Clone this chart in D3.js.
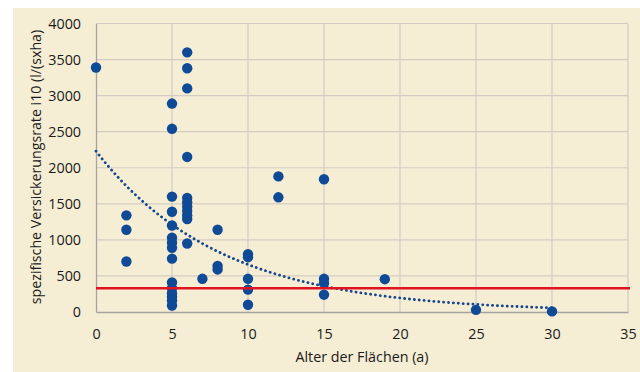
<!DOCTYPE html>
<html lang="de">
<head>
<meta charset="UTF-8"/>
<title>Versickerungsrate</title>
<script src="https://d3js.org/d3.v7.min.js"></script>
<style>
  body { margin: 0; background: #ffffff; }
  text { font-family: "Open Sans", sans-serif; fill: #1a1a1a; }
</style>
</head>
<body>
<script>
  // measured points: age of surface (a) and infiltration rate i10
  var ages = [0,
    2, 2, 2,
    5, 5, 5, 5, 5, 5, 5, 5, 5, 5, 5, 5, 5, 5, 5,
    6, 6, 6, 6, 6, 6, 6, 6, 6, 6, 6,
    7,
    8, 8, 8,
    10, 10, 10, 10, 10,
    12, 12,
    15, 15, 15, 15,
    19, 25, 30];
  var rates = [3390,
    1340, 1140, 700,
    2890, 2540, 1600, 1390, 1200, 1030, 960, 890, 740, 410, 330, 260, 210, 160, 90,
    3600, 3380, 3100, 2150, 1580, 1520, 1460, 1400, 1340, 1290, 950,
    460,
    1140, 640, 590,
    800, 760, 460, 310, 100,
    1880, 1590,
    1840, 460, 400, 240,
    455, 30, 8];

  var limit = 330;            // red reference line
  // exponential trend y = a * e^(b*x), coefficients
  var trendA = 2230, trendB = -0.122, trendEnd = 30;
  var xTicks = [0, 5, 10, 15, 20, 25, 30, 35];
  var yTicks = [0, 500, 1000, 1500, 2000, 2500, 3000, 3500, 4000];

  var w = 640, h = 372;
  var mLeft = 96, mRight = 628, mTop = 23.5, mBottom = 312;

  var svg = d3.select("body").append("svg").attr("width", w).attr("height", h);

  svg.append("rect").attr("x", 13).attr("y", 8).attr("width", w - 13).attr("height", h - 8)
    .attr("fill", "#f5edd4");

  var x = d3.scaleLinear().domain([0, 35]).range([mLeft, mRight]);
  var y = d3.scaleLinear().domain([0, 4000]).range([mBottom, mTop]);

  // grid
  svg.append("g").selectAll("line").data(yTicks.slice(1)).enter().append("line")
    .attr("x1", mLeft).attr("x2", mRight)
    .attr("y1", function(d){ return y(d); }).attr("y2", function(d){ return y(d); })
    .attr("stroke", "#d3ccc4").attr("stroke-width", 1.2);
  svg.append("g").selectAll("line").data(xTicks.slice(1)).enter().append("line")
    .attr("y1", mTop).attr("y2", mBottom)
    .attr("x1", function(d){ return x(d); }).attr("x2", function(d){ return x(d); })
    .attr("stroke", "#d3ccc4").attr("stroke-width", 1.2);

  // axes
  var xAxis = d3.axisBottom(x).tickValues(xTicks).tickSize(0).tickPadding(14).tickFormat(d3.format("d"));
  var gx = svg.append("g").attr("transform", "translate(0," + mBottom + ")").call(xAxis);
  var yAxis = d3.axisLeft(y).tickValues(yTicks).tickSize(0).tickPadding(15).tickFormat(d3.format("d"));
  var gy = svg.append("g").attr("transform", "translate(" + mLeft + ",0)").call(yAxis);
  [gx, gy].forEach(function(g){
    g.select(".domain").attr("stroke", "#a9a3a0").attr("stroke-width", 1.3);
    g.selectAll("text").attr("font-size", "14.3px").attr("fill", "#1a1a1a")
      .style("font-family", "'Open Sans', sans-serif");
  });
  gx.selectAll("text").attr("dy", "0.9em");

  // dotted trend line
  var trendX = d3.range(0, trendEnd + 0.01, 0.25);
  var line = d3.line()
    .x(function(d){ return x(d); })
    .y(function(d){ return y(trendA * Math.exp(trendB * d)); });
  svg.append("path").datum(trendX).attr("d", line)
    .attr("fill", "none").attr("stroke", "#15468f").attr("stroke-width", 2.8)
    .attr("stroke-linecap", "round").attr("stroke-dasharray", "0.1 4.8");

  // points
  svg.append("g").selectAll("circle").data(ages).enter().append("circle")
    .attr("cx", function(d){ return x(d); })
    .attr("cy", function(d, i){ return y(rates[i]); })
    .attr("r", 5.2)
    .attr("fill", "#0f4a96");

  // reference line
  svg.append("line").attr("x1", mLeft).attr("x2", mRight + 2)
    .attr("y1", y(limit)).attr("y2", y(limit))
    .attr("stroke", "#e0141e").attr("stroke-width", 2.6);

  // titles
  svg.append("text").attr("x", 362).attr("y", 362).attr("text-anchor", "middle")
    .attr("font-size", "14.3px").text("Alter der Flächen (a)");
  svg.append("text").attr("transform", "translate(41,167) rotate(-90)")
    .attr("text-anchor", "middle").attr("font-size", "14.2px")
    .text("spezifische Versickerungsrate i10 (l/(sxha)");
</script>
</body>
</html>
